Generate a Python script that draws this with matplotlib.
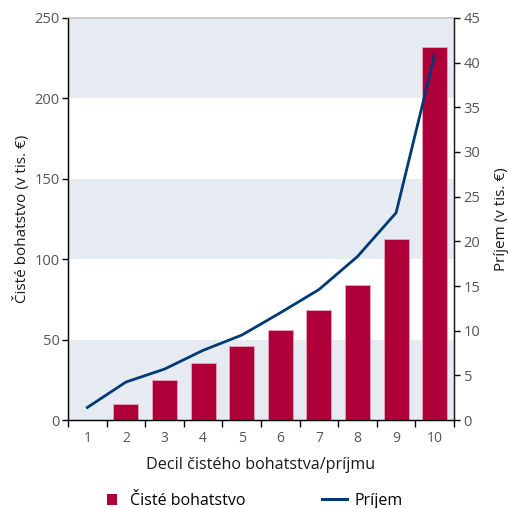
import matplotlib
matplotlib.use("Agg")
import matplotlib.pyplot as plt
from matplotlib.lines import Line2D
from matplotlib.patches import Patch

plt.rcParams['font.family'] = ['Open Sans', 'DejaVu Sans']

deciles = [1, 2, 3, 4, 5, 6, 7, 8, 9, 10]
wealth = [0, 10, 25, 35.6, 45.8, 55.8, 68.6, 84, 112.4, 232.2]
income = [1.4, 4.25, 5.7, 7.8, 9.5, 12.0, 14.6, 18.3, 23.2, 40.9]
left_ticks = [0, 50, 100, 150, 200, 250]
right_ticks = [0, 5, 10, 15, 20, 25, 30, 35, 40, 45]

bar_color = '#b0003a'
line_color = '#003a78'
band_color = '#e6ebf2'
tick_color = '#555555'
text_color = '#1a1a1a'

W, H = 510, 508
fig = plt.figure(figsize=(W / 100, H / 100), dpi=100)
ax = fig.add_axes([0.1333, 0.1732, 0.7569, 0.7914])

for lo in (0, 100, 200):
    ax.axhspan(lo, lo + 50, color=band_color, zorder=0, lw=0)

ax.bar(deciles, wealth, width=0.65, color=bar_color, edgecolor='#e9a5b9',
       linewidth=0.6, zorder=2)

ax.set_xlim(0.5, 10.5)
ax.set_ylim(0, 250)
ax.set_yticks(left_ticks)
ax.set_xticks([d - 0.5 for d in deciles] + [10.5])
ax.set_xticklabels([])
ax.set_xticks(deciles, minor=True)
ax.set_xticklabels([str(d) for d in deciles], minor=True)
ax.tick_params(axis='x', which='major', length=5, direction='out', width=1)
ax.tick_params(axis='x', which='minor', length=0, pad=8, labelcolor=tick_color, labelsize=10)
ax.tick_params(axis='y', length=4, width=1, labelcolor=tick_color, labelsize=10.5, pad=2)

for s in ('left', 'bottom', 'right'):
    ax.spines[s].set_color(text_color)
    ax.spines[s].set_linewidth(1)
ax.spines['top'].set_color('#c4c4c4')
ax.spines['top'].set_linewidth(1.2)

ax.set_xlabel('Decil čistého bohatstva/príjmu', fontsize=11.6, color=text_color, labelpad=8)
ax.set_ylabel('Čisté bohatstvo (v tis. €)', fontsize=11, color=text_color, labelpad=3)

ax2 = ax.twinx()
ax2.plot(deciles, income, color=line_color, lw=2, zorder=3)
ax2.set_ylim(0, 45)
ax2.set_yticks(right_ticks)
ax2.tick_params(axis='y', length=4, width=1, labelcolor=tick_color, labelsize=10.5, pad=3)
ax2.spines['right'].set_color(text_color)
ax2.spines['top'].set_visible(False)
ax2.set_ylabel('Príjem (v tis. €)', fontsize=11, color=text_color, labelpad=10)

leg_kw = dict(frameon=False, loc='center left', fontsize=11.5,
              borderpad=0, borderaxespad=0)
leg1 = fig.legend([Patch(facecolor=bar_color, edgecolor='none')], ['Čisté bohatstvo'],
                  bbox_to_anchor=(107 / W, 1 - 501 / H),
                  handlelength=0.63, handleheight=0.63, handletextpad=0.8, **leg_kw)
leg2 = fig.legend([Line2D([0], [0], color=line_color, lw=2.2)], ['Príjem'],
                  bbox_to_anchor=(322 / W, 1 - 501 / H),
                  handlelength=1.55, handletextpad=0.5, **leg_kw)

fig.savefig('out.png', dpi=100)
